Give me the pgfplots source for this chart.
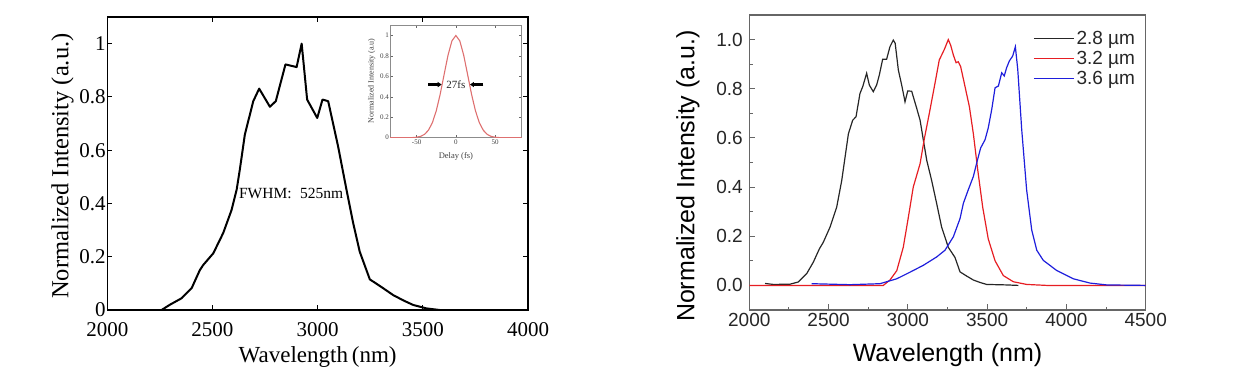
\documentclass[border=0pt]{standalone}
\usepackage{fontspec}
\setmainfont{Liberation Serif}
\newfontfamily\arial{Liberation Sans}
\usepackage{pgfplots}
\pgfplotsset{compat=1.18}
\usetikzlibrary{arrows.meta}
\definecolor{insetred}{RGB}{222,112,112}
\definecolor{cred}{RGB}{230,30,35}
\definecolor{cblue}{RGB}{30,30,220}
\begin{document}
\begin{tikzpicture}[x=1pt,y=1pt]
\useasboundingbox (0,0) rectangle (1250,386);
% ---------------- left main axis ----------------
\begin{axis}[
  at={(107.3pt,76pt)}, anchor=south west, scale only axis,
  width=420.7pt, height=293pt,
  xmin=2000, xmax=4000, ymin=0, ymax=1.1,
  xtick={2000,2500,3000,3500,4000},
  ytick={0,0.2,0.4,0.6,0.8,1},
  tick align=inside, major tick length=5pt,
  axis line style={line width=1.4pt},
  every tick/.style={line width=1.1pt, black},
  /pgf/number format/assume math mode=true,
  /pgf/number format/1000 sep={},
  ticklabel style={font=\fontsize{21}{21}\selectfont},
  yticklabel style={inner xsep=1.5pt, inner ysep=0pt},
  xticklabel style={inner ysep=0pt, yshift=-12pt},
  xlabel={Wavelength\,(nm)},
  ylabel={Normalized Intensity (a.u.)},
  xlabel style={at={(axis description cs:0.5,-0.160)}, anchor=center, font=\fontsize{23}{23}\selectfont},
  ylabel style={at={(axis description cs:-0.1065,0.491)}, anchor=center, font=\fontsize{24.5}{24.5}\selectfont},
]
\addplot[black, line width=2pt, line join=round] coordinates {
(2203,0) (2258,0) (2298,0.02) (2353,0.044) (2401,0.082) (2440,0.15) (2456,0.169)
(2504,0.213) (2551,0.289) (2591,0.376) (2615,0.452) (2630,0.527) (2654,0.659)
(2694,0.784) (2722,0.831) (2773,0.763) (2801,0.784) (2847,0.922) (2900,0.912)
(2924,1.0) (2950,0.79) (2998,0.721) (3023,0.79) (3050,0.784) (3097,0.615)
(3137,0.452) (3169,0.326) (3200,0.219) (3248,0.115) (3300,0.088) (3359,0.056)
(3410,0.035) (3454,0.019) (3517,0.006) (3580,0) (3691,0)
};
\node[font=\fontsize{15.5}{15.5}\selectfont, inner sep=0pt] at (axis cs:2874,0.438) {FWHM:\hspace{0.55em}525nm};
\end{axis}
% ---------------- inset ----------------
\begin{axis}[
  at={(390pt,248.3pt)}, anchor=south west, scale only axis,
  width=131.7pt, height=112.4pt,
  xmin=-84, xmax=84, ymin=0, ymax=1.1,
  xtick={-50,0,50}, ytick={0,0.2,0.4,0.6,0.8,1},
  tick align=inside, major tick length=2.5pt,
  axis line style={draw=black!45, line width=0.8pt},
  every tick/.style={black!60, line width=0.6pt},
  /pgf/number format/assume math mode=true,
  ticklabel style={font=\fontsize{7}{7}\selectfont, text=black!75},
  yticklabel style={inner xsep=1pt},
  xticklabel style={inner ysep=2pt},
  xlabel={Delay (fs)}, ylabel={Normalized Intensity (a.u)},
  xlabel style={at={(axis description cs:0.5,-0.169)}, anchor=center, font=\fontsize{8.5}{8.5}\selectfont, text=black!75},
  ylabel style={at={(axis description cs:-0.139,0.506)}, anchor=center, font=\fontsize{8}{8}\selectfont, text=black!75},
]
\addplot[insetred, line width=1.1pt] coordinates {
(-84,0) (-60,0) (-55,0.0015) (-50,0.0048) (-45,0.0131) (-40,0.0326) (-35,0.0728)
(-30,0.146) (-25,0.263) (-20,0.425) (-15,0.618) (-10,0.807) (-5,0.948) (0,1)
(5,0.948) (10,0.807) (15,0.618) (20,0.425) (25,0.263) (30,0.146) (35,0.0728)
(40,0.0326) (45,0.0131) (50,0.0048) (55,0.0015) (60,0) (84,0)
};
\draw[-{Triangle[length=4pt,width=5pt]}, line width=2.6pt] (axis cs:-35,0.52) -- (axis cs:-18,0.52);
\draw[-{Triangle[length=4pt,width=5pt]}, line width=2.6pt] (axis cs:35,0.52) -- (axis cs:18,0.52);
\node[font=\fontsize{11}{11}\selectfont, inner sep=0pt, text=black!85] at (axis cs:0,0.52) {27fs};
\end{axis}
% ---------------- right axis ----------------
\begin{axis}[
  at={(749.3pt,76pt)}, anchor=south west, scale only axis,
  width=396.4pt, height=295pt,
  xmin=2000, xmax=4500, ymin=-0.1, ymax=1.1,
  xtick={2000,2500,3000,3500,4000,4500},
  ytick={0,0.2,0.4,0.6,0.8,1.0},
  minor x tick num=1, minor y tick num=1,
  tick pos=left, tick align=inside,
  major tick length=6pt, minor tick length=3.5pt,
  axis line style={draw=black!60, line width=1.2pt},
  every tick/.style={black!60, line width=1pt},
  /pgf/number format/assume math mode=true,
  /pgf/number format/1000 sep={},
  ticklabel style={font=\arial\fontsize{19}{19}\selectfont, text=black!85},
  yticklabel style={/pgf/number format/fixed, /pgf/number format/fixed zerofill, /pgf/number format/precision=1, xshift=-3pt},
  xlabel={Wavelength (nm)},
  ylabel={Normalized Intensity (a.u.)},
  xlabel style={at={(axis description cs:0.5,-0.1525)}, anchor=center, font=\arial\fontsize{25}{25}\selectfont},
  ylabel style={at={(axis description cs:-0.1547,0.454)}, anchor=center, font=\arial\fontsize{25}{25}\selectfont},
  legend image code/.code={\draw[#1] (0pt,0pt) -- (40pt,0pt);},
  legend style={draw=none, fill=none, at={(axis description cs:0.716,0.954)}, anchor=north west,
    font=\arial\fontsize{19}{19}\selectfont, inner sep=0pt, row sep=0pt,
    nodes={inner xsep=2pt, inner ysep=2.6pt, text=black!85}},
  legend cell align=left,
]
\addplot[black!85, line width=1.2pt] coordinates {
(2099,0.008) (2151,0.004) (2257,0.005) (2309,0.014) (2362,0.048) (2404,0.095)
(2442,0.149) (2467,0.176) (2509,0.237) (2551,0.318) (2583,0.427) (2604,0.522)
(2625,0.617) (2652,0.672) (2673,0.686) (2698,0.781) (2715,0.808) (2740,0.863)
(2757,0.815) (2782,0.788) (2803,0.815) (2820,0.856) (2841,0.92) (2866,0.92)
(2887,0.971) (2908,0.998) (2920,0.985) (2940,0.876) (2961,0.815) (2982,0.747)
(2999,0.791) (3024,0.79) (3056,0.72) (3077,0.672) (3098,0.59) (3119,0.509)
(3150,0.427) (3182,0.332) (3213,0.237) (3255,0.155) (3297,0.114) (3329,0.055)
(3371,0.038) (3413,0.022) (3455,0.012) (3497,0.004) (3623,0.002) (3697,0.0)
};
\addlegendentry{2.8 µm}
\addplot[cred, line width=1.2pt] coordinates {
(2000,0) (2845,0.0) (2887,0.022) (2930,0.06) (2971,0.155) (3003,0.277) (3034,0.4)
(3077,0.495) (3104,0.597) (3135,0.699) (3171,0.822) (3198,0.917) (3213,0.937)
(3230,0.96) (3255,1.0) (3270,0.977) (3287,0.937) (3304,0.906) (3318,0.91)
(3333,0.89) (3354,0.828) (3388,0.727) (3413,0.617) (3441,0.468) (3472,0.318)
(3507,0.189) (3550,0.1) (3602,0.04) (3665,0.015) (3749,0.004) (3876,0.0) (4500,0)
};
\addlegendentry{3.2 µm}
\addplot[cblue, line width=1.2pt] coordinates {
(2393,0.007) (2635,0.003) (2824,0.007) (2930,0.027) (3014,0.054) (3098,0.082)
(3182,0.116) (3234,0.143) (3287,0.198) (3329,0.272) (3350,0.334) (3381,0.389)
(3413,0.443) (3434,0.498) (3459,0.559) (3487,0.593) (3507,0.641) (3529,0.716)
(3550,0.804) (3571,0.811) (3592,0.865) (3608,0.852) (3623,0.886) (3640,0.913)
(3661,0.933) (3678,0.971) (3693,0.879) (3718,0.634) (3749,0.389) (3781,0.226)
(3813,0.143) (3854,0.102) (3938,0.061) (4043,0.027) (4149,0.0095) (4254,0.002) (4500,0.0)
};
\addlegendentry{3.6 µm}
\end{axis}
\end{tikzpicture}
\end{document}
